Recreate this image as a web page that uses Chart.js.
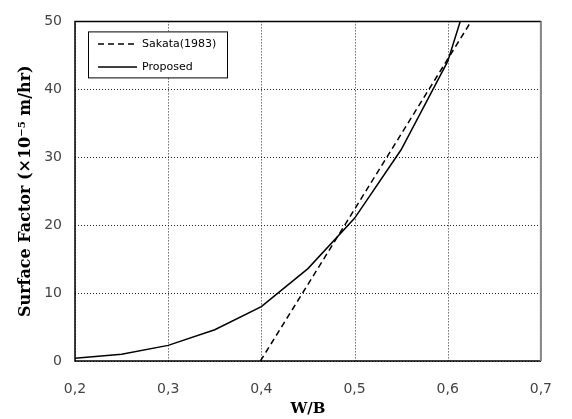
<!DOCTYPE html>
<html>
<head>
<meta charset="utf-8">
<script src="https://cdn.jsdelivr.net/npm/chart.js@4"></script>
<style>
  html, body { margin: 0; padding: 0; background: #fff; }
  canvas { display: block; }
</style>
</head>
<body>
<canvas id="chart" width="572" height="419"></canvas>
<script>
// W/B ratio vs surface factor
const proposedWB = [0.2, 0.25, 0.3, 0.35, 0.4, 0.45, 0.5, 0.55, 0.6, 0.65];
const proposedSF = [0.4, 1.0, 2.3, 4.6, 8.0, 13.6, 21.0, 31.1, 44.1, 66.0];

const sakataWB = [0.399, 0.65];
const sakataSF = [0, 55.5];

const xTickValues = [0.2, 0.3, 0.4, 0.5, 0.6, 0.7];
const xTickLabels = ['0,2', '0,3', '0,4', '0,5', '0,6', '0,7'];
const yTickValues = [0, 10, 20, 30, 40, 50];
const yTickLabels = ['0', '10', '20', '30', '40', '50'];

const toPoints = (xs, ys) => xs.map((x, i) => ({ x: x, y: ys[i] }));

// dotted grid, drawn from the scales' own tick positions
const dottedGrid = {
  id: 'dottedGrid',
  beforeDatasetsDraw(chart) {
    const { left, right, top, bottom } = chart.chartArea;
    const ctx = chart.ctx;
    ctx.save();
    ctx.strokeStyle = '#222';
    ctx.lineWidth = 1;
    ctx.setLineDash([1, 2]);
    chart.scales.x.ticks.forEach(t => {
      const px = Math.round(chart.scales.x.getPixelForValue(t.value)) + 0.5;
      ctx.beginPath();
      ctx.moveTo(px, top);
      ctx.lineTo(px, bottom);
      ctx.stroke();
    });
    chart.scales.y.ticks.forEach(t => {
      const py = Math.round(chart.scales.y.getPixelForValue(t.value)) + 0.5;
      ctx.beginPath();
      ctx.moveTo(left, py);
      ctx.lineTo(right, py);
      ctx.stroke();
    });
    ctx.restore();
  }
};

// legend box drawn inside the plot, top left
const boxLegend = {
  id: 'boxLegend',
  afterDraw(chart) {
    const ctx = chart.ctx;
    const x = chart.chartArea.left + 13, y = chart.chartArea.top + 10;
    ctx.save();
    ctx.fillStyle = '#fff';
    ctx.fillRect(x, y, 139, 46);
    ctx.strokeStyle = '#000';
    ctx.lineWidth = 1;
    ctx.strokeRect(x + 0.5, y + 0.5, 139, 46);
    ctx.font = '11px "DejaVu Sans"';
    ctx.textBaseline = 'middle';
    chart.data.datasets.forEach((ds, i) => {
      const ly = y + 12.5 + i * 23;
      ctx.beginPath();
      ctx.setLineDash(ds.borderDash || []);
      ctx.lineWidth = 1.5;
      ctx.moveTo(x + 10, ly);
      ctx.lineTo(x + 49, ly);
      ctx.stroke();
      ctx.setLineDash([]);
      ctx.fillStyle = '#000';
      ctx.fillText(ds.label, x + 54, ly);
    });
    ctx.restore();
  }
};

// frame: dark on three sides, grey on the right
const frame = {
  id: 'frame',
  afterDraw(chart) {
    const { left, right, top, bottom } = chart.chartArea;
    const ctx = chart.ctx;
    ctx.save();
    ctx.lineWidth = 1.5;
    ctx.strokeStyle = '#000';
    ctx.beginPath();
    ctx.moveTo(right, top);
    ctx.lineTo(left, top);
    ctx.lineTo(left, bottom);
    ctx.lineTo(right, bottom);
    ctx.stroke();
    ctx.strokeStyle = '#888';
    ctx.lineWidth = 2;
    ctx.beginPath();
    ctx.moveTo(right, top);
    ctx.lineTo(right, bottom);
    ctx.stroke();
    ctx.restore();
  }
};

new Chart(document.getElementById('chart'), {
  type: 'line',
  data: {
    datasets: [
      {
        label: 'Sakata(1983)',
        data: toPoints(sakataWB, sakataSF),
        borderColor: '#000',
        borderWidth: 1.5,
        borderDash: [6, 4],
        pointRadius: 0,
        fill: false
      },
      {
        label: 'Proposed',
        data: toPoints(proposedWB, proposedSF),
        borderColor: '#000',
        borderWidth: 1.5,
        pointRadius: 0,
        fill: false
      }
    ]
  },
  options: {
    responsive: false,
    animation: false,
    layout: { padding: { top: 18, right: 12, left: 0, bottom: 0 } },
    plugins: {
      legend: { display: false },
      tooltip: { enabled: false }
    },
    scales: {
      x: {
        type: 'linear',
        min: 0.2,
        max: 0.7,
        afterFit: s => { s.height = 58; },
        afterBuildTicks: s => { s.ticks = xTickValues.map(v => ({ value: v })); },
        border: { display: false },
        grid: { display: false, drawTicks: false },
        ticks: {
          padding: 20,
          color: '#444',
          font: { family: 'DejaVu Sans', size: 14 },
          callback: (v, i) => xTickLabels[i]
        },
        title: {
          display: true,
          text: 'W/B',
          color: '#000',
          font: { family: 'DejaVu Serif', size: 15, weight: 'bold' },
          padding: { top: 0, bottom: 1 }
        }
      },
      y: {
        min: 0,
        max: 50,
        afterFit: s => { s.width = 75; },
        afterBuildTicks: s => { s.ticks = yTickValues.map(v => ({ value: v })); },
        border: { display: false },
        grid: { display: false, drawTicks: false },
        ticks: {
          padding: 13,
          color: '#444',
          font: { family: 'DejaVu Sans', size: 14 },
          callback: (v, i) => yTickLabels[i]
        },
        title: {
          display: true,
          text: 'Surface Factor (\u00d710\u207b\u2075 m/hr)',
          color: '#000',
          font: { family: 'DejaVu Serif', size: 16, weight: 'bold' },
          padding: { top: 16, bottom: 0 }
        }
      }
    }
  },
  plugins: [dottedGrid, boxLegend, frame]
});
</script>
</body>
</html>
